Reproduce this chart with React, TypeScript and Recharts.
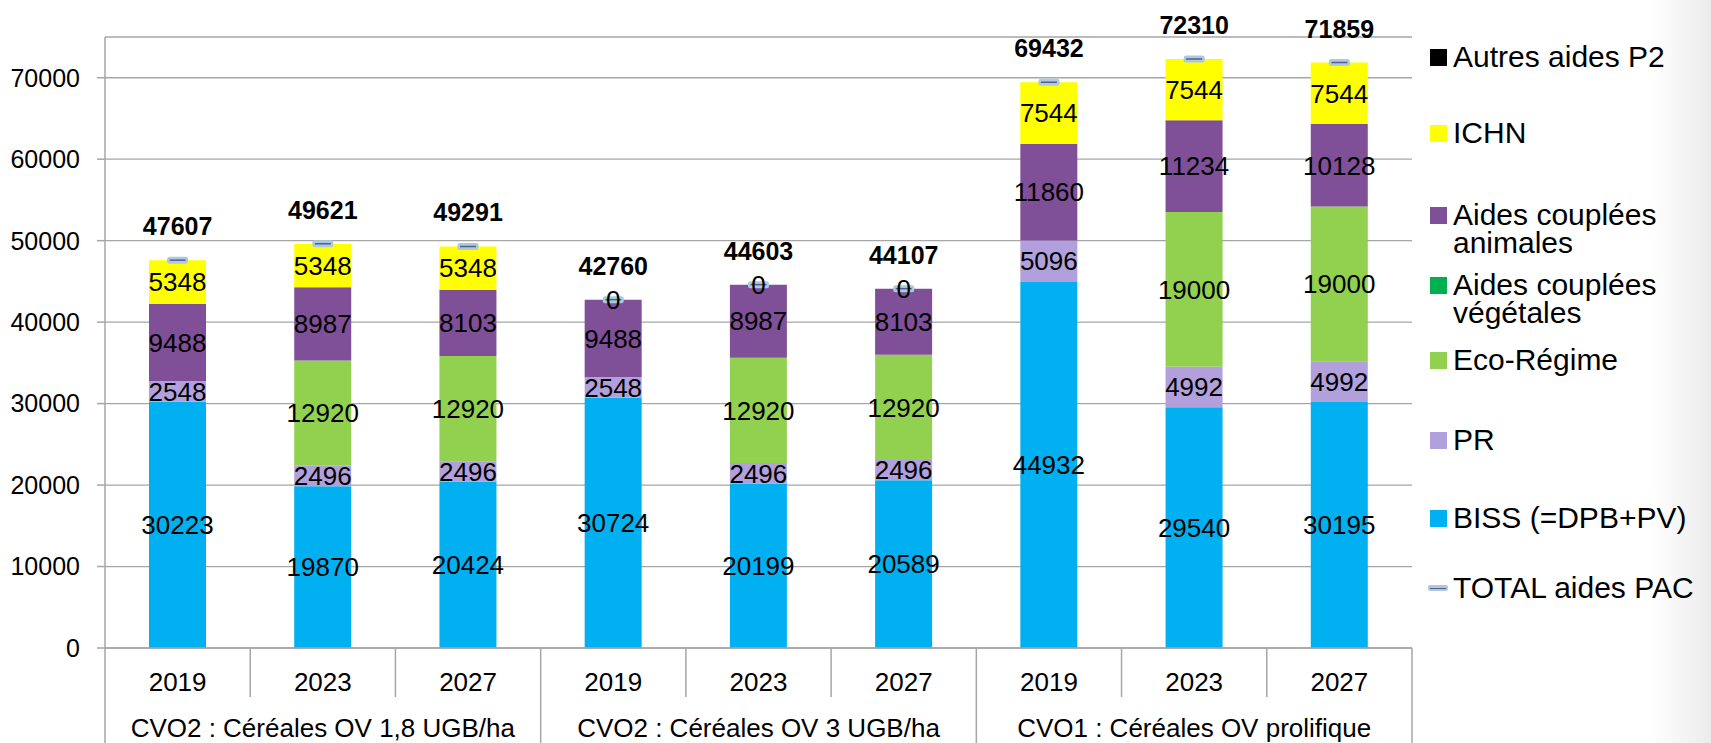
import { ComposedChart, Bar, Line, XAxis, YAxis, CartesianGrid, LabelList } from 'recharts'

const years = ['2019', '2023', '2027', '2019', '2023', '2027', '2019', '2023', '2027']
const groups = ['CVO2 : Céréales OV 1,8 UGB/ha', 'CVO2 : Céréales OV 3 UGB/ha', 'CVO1 : Céréales OV prolifique']

const biss = [30223, 19870, 20424, 30724, 20199, 20589, 44932, 29540, 30195]
const pr = [2548, 2496, 2496, 2548, 2496, 2496, 5096, 4992, 4992]
const ecoRegime = [0, 12920, 12920, 0, 12920, 12920, 0, 19000, 19000]
const coupleesVeg = [0, 0, 0, 0, 0, 0, 0, 0, 0]
const coupleesAnim = [9488, 8987, 8103, 9488, 8987, 8103, 11860, 11234, 10128]
const ichn = [5348, 5348, 5348, 0, 0, 0, 7544, 7544, 7544]
const autresP2 = [0, 0, 0, 0, 0, 0, 0, 0, 0]
const totals = [47607, 49621, 49291, 42760, 44603, 44107, 69432, 72310, 71859]

const yTicks = [0, 10000, 20000, 30000, 40000, 50000, 60000, 70000]

const data = years.map((year, i) => ({
  year,
  group: groups[Math.floor(i / 3)],
  biss: biss[i],
  pr: pr[i],
  eco: ecoRegime[i],
  veg: coupleesVeg[i],
  anim: coupleesAnim[i],
  ichn: ichn[i],
  p2: autresP2[i],
  total: totals[i],
}))

const W = 1711
const H = 743
const PLOT_LEFT = 105
const MARGIN_RIGHT = 299
const BAND = (W - PLOT_LEFT - MARGIN_RIGHT) / years.length
const GREY = '#a6a6a6'
const FONT = '"Liberation Sans", Arial, sans-serif'

// ordre d'empilement (bas -> haut)
const series = [
  { key: 'biss', color: '#00b0f0', label: 'always' },
  { key: 'pr', color: '#b1a0dc', label: 'always' },
  { key: 'eco', color: '#92d050', label: 'nonzero' },
  { key: 'veg', color: '#00b050', label: 'none' },
  { key: 'anim', color: '#7f4f98', label: 'always' },
  { key: 'ichn', color: '#ffff00', label: 'always' },
  { key: 'p2', color: '#000000', label: 'none' },
]

const legendItems = [
  { name: ['Autres aides P2'], color: '#000000', top: 57 },
  { name: ['ICHN'], color: '#ffff00', top: 133 },
  { name: ['Aides couplées', 'animales'], color: '#7f4f98', top: 215 },
  { name: ['Aides couplées', 'végétales'], color: '#00b050', top: 285 },
  { name: ['Eco-Régime'], color: '#92d050', top: 360 },
  { name: ['PR'], color: '#b1a0dc', top: 440 },
  { name: ['BISS (=DPB+PV)'], color: '#00b0f0', top: 518 },
]

// haut de la pile là où l'ICHN vaut 0 (Excel y affiche quand même « 0 »)
const ichnZeroTop = (d: any) =>
  d.ichn === 0 ? d.biss + d.pr + d.eco + d.veg + d.anim : null

function CategoryTick(props: any) {
  const { x, y, index } = props
  const half = BAND / 2
  const lastInGroup = index % 3 === 2
  return (
    <g>
      {index === 0 && (
        <line x1={x - half} x2={x - half} y1={y} y2={H} stroke={GREY} strokeWidth={1.5} />
      )}
      <line x1={x + half} x2={x + half} y1={y} y2={lastInGroup ? H : y + 49} stroke={GREY} strokeWidth={1.5} />
      <text x={x} y={y + 43} textAnchor="middle" fontSize={26} fill="#000" fontFamily={FONT}>
        {years[index]}
      </text>
      {index % 3 === 1 && (
        <text x={x} y={y + 89} textAnchor="middle" fontSize={26} fill="#000" fontFamily={FONT}>
          {groups[Math.floor(index / 3)]}
        </text>
      )}
    </g>
  )
}

function TotalMarker(props: any) {
  const { cx, cy, index } = props
  if (cx == null || cy == null) return <g key={`m${index}`} />
  return (
    <g key={`m${index}`}>
      <rect x={cx - 10.5} y={cy - 3.5} width={21} height={7} rx={2.5} fill="#a9cbe0" />
      <line x1={cx - 8} x2={cx + 8} y1={cy} y2={cy} stroke="#5e5b8a" strokeWidth={1.5} />
    </g>
  )
}

function TotalLabel(props: any) {
  const { x, y, value, index } = props
  return (
    <text key={`t${index}`} x={x} y={y - 25} textAnchor="middle" fontSize={25} fontWeight="bold" fill="#000" fontFamily={FONT}>
      {value}
    </text>
  )
}

function ZeroLabel(props: any) {
  const { x, y, value, index } = props
  if (value == null || y == null) return <g key={`z${index}`} />
  return (
    <text key={`z${index}`} x={x} y={y + 9} textAnchor="middle" fontSize={26} fill="#000" fontFamily={FONT}>
      {ichn[index]}
    </text>
  )
}

export default function App() {
  return (
    <div
      style={{
        position: 'absolute',
        left: 0,
        top: 0,
        width: W,
        height: H,
        overflow: 'hidden',
        background: 'linear-gradient(to right, #ffffff 0px, #ffffff 1650px, #ececec 1711px)',
        fontFamily: FONT,
      }}
    >
      <div
        style={{
          position: 'absolute',
          left: 22,
          top: -13,
          color: '#00b050',
          fontSize: 13,
          fontWeight: 'bold',
          letterSpacing: 1,
        }}
      >
        RÉSEAUX D'ÉLEVAGE
      </div>

      <ComposedChart
        width={W}
        height={H}
        data={data}
        margin={{ top: 37, right: MARGIN_RIGHT, bottom: 0, left: 0 }}
        style={{ fontFamily: FONT }}
      >
        <CartesianGrid vertical={false} stroke={GREY} strokeWidth={1.3} />
        <XAxis
          dataKey="year"
          height={95}
          interval={0}
          tickLine={false}
          tickSize={0}
          tickMargin={0}
          axisLine={{ stroke: GREY, strokeWidth: 1.5 }}
          tick={<CategoryTick />}
        />
        <YAxis
          width={PLOT_LEFT}
          domain={[0, 75000]}
          ticks={yTicks}
          interval={0}
          allowDataOverflow
          axisLine={{ stroke: GREY, strokeWidth: 1.5 }}
          tickLine={{ stroke: GREY, strokeWidth: 1.5 }}
          tickSize={8}
          tickMargin={17}
          tick={{ fill: '#000', fontSize: 25, fontFamily: FONT }}
        />
        {series.map((s) => (
          <Bar key={s.key} dataKey={s.key} stackId="a" fill={s.color} barSize={57} isAnimationActive={false}>
            {s.label !== 'none' && (
              <LabelList
                dataKey={s.key}
                position="center"
                fontSize={26}
                fill="#000"
                fontFamily={FONT}
                formatter={(v: any) => (s.label === 'nonzero' && !v ? '' : v)}
              />
            )}
          </Bar>
        ))}
        <Line
          dataKey="total"
          stroke="none"
          dot={TotalMarker}
          activeDot={false}
          label={TotalLabel}
          isAnimationActive={false}
        />
        <Line
          dataKey={ichnZeroTop}
          stroke="none"
          dot={false}
          activeDot={false}
          label={ZeroLabel}
          legendType="none"
          isAnimationActive={false}
        />
      </ComposedChart>

      {legendItems.map((item) => (
        <div key={item.name.join(' ')} style={{ position: 'absolute', left: 1430, top: item.top - 14 }}>
          <div
            style={{
              position: 'absolute',
              left: 0,
              top: 5.5,
              width: 17,
              height: 17,
              background: item.color,
            }}
          />
          <div style={{ position: 'absolute', left: 23, top: 0, fontSize: 30, lineHeight: '28px', whiteSpace: 'nowrap', color: '#000' }}>
            {item.name.map((l) => (
              <div key={l}>{l}</div>
            ))}
          </div>
        </div>
      ))}
      <div style={{ position: 'absolute', left: 1428, top: 588 - 14 }}>
        <div style={{ position: 'absolute', left: 0, top: 11, width: 20, height: 6, borderRadius: 2, background: '#a9cbe0' }} />
        <div style={{ position: 'absolute', left: 2, top: 13.5, width: 16, height: 1.5, background: '#5e5b8a' }} />
        <div style={{ position: 'absolute', left: 25, top: 0, fontSize: 30, lineHeight: '28px', whiteSpace: 'nowrap', color: '#000' }}>
          TOTAL aides PAC
        </div>
      </div>
    </div>
  )
}
